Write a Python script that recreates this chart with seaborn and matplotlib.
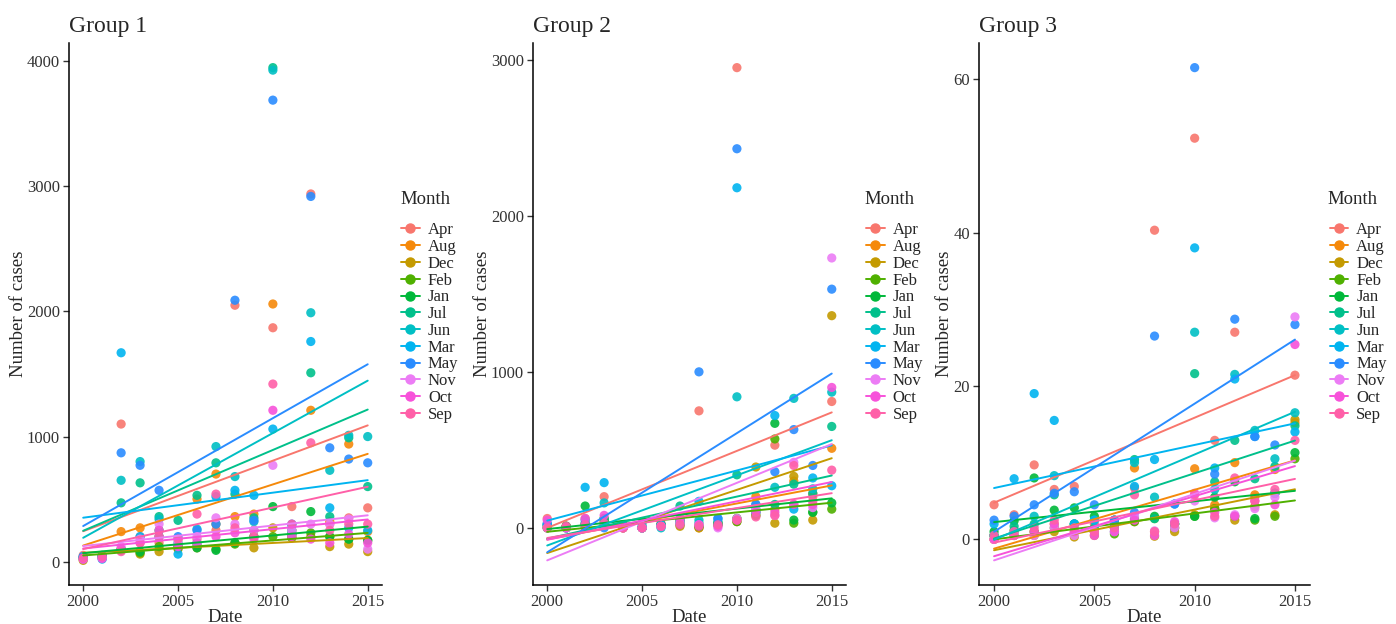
import matplotlib
matplotlib.use('Agg')
import matplotlib.pyplot as plt
from matplotlib.lines import Line2D
import pandas as pd
import seaborn as sns

# years on the x axis, one point per month per year
years = list(range(2000, 2016))
months = ['Apr', 'Aug', 'Dec', 'Feb', 'Jan', 'Jul', 'Jun', 'Mar', 'May', 'Nov', 'Oct', 'Sep']
month_colors = ['#F8766D', '#F5890A', '#C49A00', '#4FB000', '#00B83A', '#00C08B',
                '#00BFC4', '#00B4F0', '#2A8CFF', '#EC7CF5', '#F752DA', '#FF5FA8']

# number of cases, rows in the same order as months
group1_cases = [
    [50, 30, 1100, 200, 150, 120, 180, 250, 2050, 200, 1870, 440, 2940, 300, 350, 430],    # Apr
    [30, 40, 240, 270, 200, 180, 500, 700, 360, 380, 2060, 250, 1210, 320, 940, 240],      # Aug
    [10, 40, 100, 60, 80, 100, 110, 300, 150, 110, 270, 200, 200, 120, 140, 80],           # Dec
    [20, 30, 90, 70, 120, 110, 130, 100, 140, 250, 200, 190, 230, 200, 180, 170],          # Feb
    [30, 40, 100, 80, 250, 120, 110, 90, 150, 200, 440, 220, 400, 200, 180, 170],          # Jan
    [30, 40, 470, 630, 360, 330, 530, 790, 540, 350, 3950, 220, 1510, 360, 990, 600],      # Jul
    [30, 40, 650, 800, 340, 150, 260, 920, 680, 320, 3930, 250, 1990, 730, 1010, 1000],    # Jun
    [40, 20, 1670, 200, 200, 60, 150, 520, 570, 530, 1060, 290, 1760, 430, 270, 250],      # Mar
    [40, 50, 870, 770, 570, 200, 250, 300, 2090, 330, 3690, 300, 2920, 910, 820, 790],     # May
    [20, 30, 120, 180, 300, 150, 200, 350, 300, 250, 770, 250, 300, 300, 340, 100],        # Nov
    [20, 25, 100, 150, 250, 120, 150, 200, 230, 180, 1210, 200, 180, 150, 220, 150],       # Oct
    [30, 40, 80, 150, 200, 180, 380, 540, 270, 200, 1420, 300, 950, 250, 300, 300],        # Sep
]

group2_cases = [
    [60, 10, 60, 200, 20, 0, 30, 40, 750, 30, 2950, 80, 530, 150, 200, 810],     # Apr
    [10, 0, 30, 40, 0, 0, 20, 50, 0, 20, 60, 200, 120, 300, 220, 510],           # Aug
    [0, 10, 0, 20, 0, 0, 20, 10, 0, 20, 40, 390, 30, 330, 50, 1360],             # Dec
    [0, 10, 20, 60, 0, 0, 10, 20, 10, 20, 40, 80, 570, 30, 100, 120],            # Feb
    [20, 0, 140, 50, 10, 0, 20, 30, 10, 30, 60, 100, 670, 50, 100, 160],         # Jan
    [0, 10, 20, 60, 20, 30, 20, 140, 30, 40, 340, 120, 150, 280, 220, 650],      # Jul
    [20, 0, 50, 160, 20, 10, 0, 60, 50, 20, 840, 150, 260, 830, 250, 870],       # Jun
    [30, 0, 260, 290, 10, 0, 20, 50, 170, 60, 2180, 100, 720, 120, 320, 270],    # Mar
    [20, 0, 30, 0, 10, 0, 10, 30, 1000, 60, 2430, 150, 360, 630, 400, 1530],     # May
    [0, 0, 10, 20, 0, 0, 10, 30, 20, 0, 60, 120, 80, 420, 130, 1730],            # Nov
    [50, 0, 60, 80, 0, 0, 10, 60, 20, 10, 50, 100, 100, 150, 150, 900],          # Oct
    [0, 10, 20, 30, 0, 0, 10, 20, 10, 20, 50, 70, 80, 400, 170, 370],            # Sep
]

group3_cases = [
    [4.5, 3.2, 9.7, 6.5, 6.9, 2.0, 2.5, 6.7, 40.3, 2.0, 52.3, 12.9, 27.0, 5.5, 6.0, 21.4],  # Apr
    [0.0, 0.5, 1.0, 2.0, 1.0, 1.0, 1.5, 9.3, 1.0, 1.5, 9.2, 4.5, 10.0, 5.8, 9.1, 15.2],     # Aug
    [0.0, 0.5, 0.5, 1.0, 0.3, 0.5, 1.5, 2.3, 0.4, 1.0, 3.2, 4.0, 2.5, 4.3, 3.2, 15.6],      # Dec
    [0.5, 1.2, 1.0, 1.5, 2.0, 1.0, 0.7, 2.3, 2.7, 1.5, 3.0, 4.0, 3.0, 2.5, 3.0, 10.5],      # Feb
    [1.0, 2.4, 8.0, 3.8, 4.1, 3.0, 2.5, 2.7, 3.0, 2.0, 3.0, 5.5, 7.5, 2.7, 6.0, 11.3],      # Jan
    [0.5, 1.7, 2.0, 5.8, 2.0, 1.5, 1.0, 10.4, 2.7, 2.0, 21.6, 7.5, 12.9, 7.9, 9.5, 14.8],  # Jul
    [0.5, 1.0, 3.0, 8.3, 2.0, 2.5, 1.5, 10.0, 5.5, 2.0, 27.0, 6.5, 21.5, 14.2, 10.5, 16.5],  # Jun
    [2.0, 7.9, 19.0, 15.5, 2.0, 2.5, 2.0, 6.9, 10.4, 4.6, 38.0, 9.3, 20.9, 13.4, 6.0, 14.0],  # Mar
    [2.5, 3.0, 4.5, 6.0, 6.2, 4.5, 2.5, 3.5, 26.5, 4.6, 61.5, 8.5, 28.7, 13.4, 12.3, 28.0],  # May
    [0.0, 0.5, 0.5, 1.5, 0.5, 1.0, 1.0, 3.0, 1.1, 1.5, 5.0, 2.8, 3.2, 4.0, 5.5, 29.0],     # Nov
    [0.0, 0.5, 1.0, 2.0, 1.0, 0.5, 1.0, 2.5, 0.5, 2.3, 6.0, 3.5, 3.0, 5.0, 4.5, 25.4],     # Oct
    [0.5, 1.0, 1.5, 2.5, 1.5, 1.0, 1.5, 5.8, 1.0, 2.0, 5.8, 3.0, 8.0, 5.0, 6.5, 12.9],     # Sep
]

group_titles = ['Group 1', 'Group 2', 'Group 3']
y_ticks = [[0, 1000, 2000, 3000, 4000], [0, 1000, 2000, 3000], [0, 20, 40, 60]]

sns.set_theme(style='ticks')
plt.rcParams['font.family'] = ['Liberation Serif', 'DejaVu Serif']

fig = plt.figure(figsize=(13.96, 6.24), dpi=100)
axes_pos = [[0.0494, 0.0625, 0.2242, 0.8686],
            [0.3818, 0.0625, 0.2242, 0.8686],
            [0.7013, 0.0625, 0.2371, 0.8686]]
legend_x = [0.2815, 0.6145, 0.9465]
title_x = [0.2865, 0.619, 0.951]
palette = dict(zip(months, month_colors))

for i, cases in enumerate([group1_cases, group2_cases, group3_cases]):
    rows = []
    for m, vals in zip(months, cases):
        for yr, v in zip(years, vals):
            rows.append({'Date': yr, 'Cases': v, 'Month': m})
    df = pd.DataFrame(rows)

    ax = fig.add_axes(axes_pos[i])
    sns.scatterplot(data=df, x='Date', y='Cases', hue='Month', hue_order=months,
                    palette=palette, s=44, alpha=0.9, linewidth=0, legend=False, ax=ax)
    for m in months:
        sns.regplot(data=df[df['Month'] == m], x='Date', y='Cases', scatter=False,
                    ci=None, truncate=True, color=palette[m],
                    line_kws={'lw': 1.4}, ax=ax)

    ax.set_xticks([2000, 2005, 2010, 2015])
    ax.set_yticks(y_ticks[i])
    ax.set_title(group_titles[i], loc='left', fontsize=17, pad=8)
    ax.set_xlabel('Date', fontsize=13.5, labelpad=-1)
    ax.set_ylabel('Number of cases', fontsize=13.5, labelpad=0)
    ax.tick_params(labelsize=12, colors='#333333', length=4, width=1, pad=2.5)
    sns.despine(ax=ax)
    for sp in ['left', 'bottom']:
        ax.spines[sp].set_color('black')
        ax.spines[sp].set_linewidth(1.1)

    # legend title placed on its own, entries below it
    fig.text(title_x[i], 1 - 200 / 624, 'Month', fontsize=13.5, ha='left', va='center')
    handles = [Line2D([0], [0], color=palette[m], marker='o', markersize=6.5, lw=1.4)
               for m in months]
    fig.legend(handles, months, loc='upper left',
               bbox_to_anchor=(legend_x[i], 1 - 214 / 624), frameon=False, fontsize=12,
               labelspacing=0.045, handlelength=1.1,
               handletextpad=0.5, borderpad=0)

fig.savefig('out.png', dpi=100)
